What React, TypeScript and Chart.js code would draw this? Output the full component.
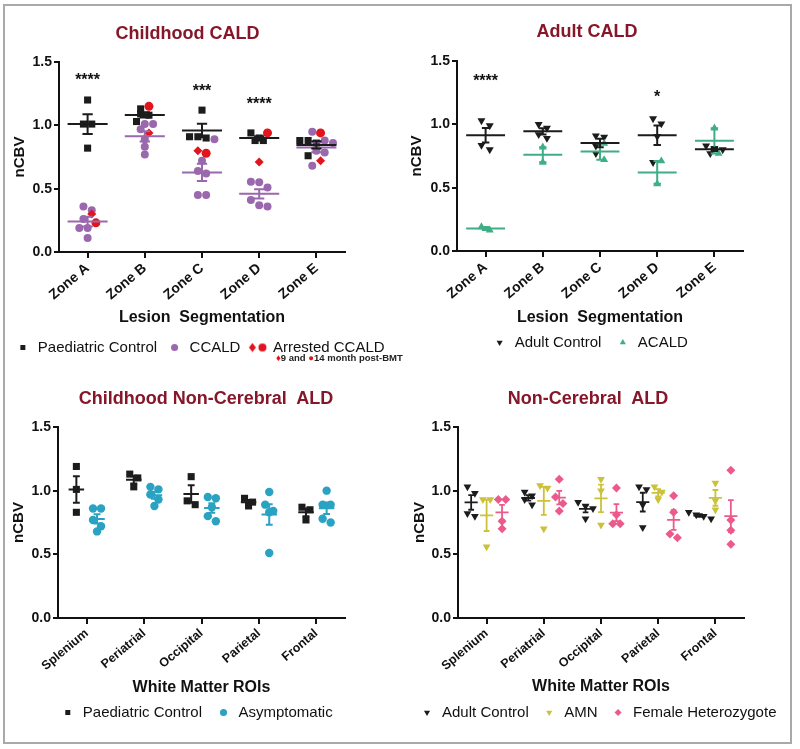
import React, { useEffect, useRef } from "react";
import { Chart, registerables } from "chart.js";

Chart.register(...registerables);

const FONT = "'Liberation Sans', Arial, Helvetica, sans-serif";
Chart.defaults.font.family = FONT;

// ---------- categories & ticks ----------
const zoneLabels = ["Zone A", "Zone B", "Zone C", "Zone D", "Zone E"];
const roiLabels = ["Splenium", "Periatrial", "Occipital", "Parietal", "Frontal"];
const yTickValues = [0, 0.5, 1.0, 1.5];

// ---------- Childhood CALD ----------
const paediatricControlZones = [
  [1.2, 1.01, 1.01, 0.82],
  [1.09, 1.08, 1.13, 1.03],
  [1.12, 0.91, 0.9, 0.91],
  [0.9, 0.88, 0.88, 0.94],
  [0.88, 0.86, 0.88, 0.76],
];
const ccaldZones = [
  [0.36, 0.33, 0.26, 0.19, 0.19, 0.11],
  [1.01, 0.97, 1.01, 0.89, 0.83, 0.77],
  [0.89, 0.72, 0.64, 0.62, 0.45, 0.45],
  [0.55, 0.555, 0.51, 0.41, 0.36, 0.37],
  [0.95, 0.86, 0.8, 0.785, 0.68, 0.88],
];
const arrested9Month = [0.3, 0.94, 0.8, 0.71, 0.72];
const arrested14Month = [0.23, 1.15, 0.78, 0.94, 0.94];
const childhoodSigText = ["****", "", "***", "****", ""];
const childhoodSigLevel = [1.39, 0, 1.3, 1.2, 0];

// ---------- Adult CALD ----------
const adultControlZones = [
  [1.03, 0.99, 0.835, 0.8],
  [1.0, 0.97, 0.92, 0.89],
  [0.91, 0.9, 0.77, 0.83],
  [1.045, 1.005, 0.905, 0.7],
  [0.83, 0.8, 0.77, 0.81],
];
const acaldZones = [
  [0.165, 0.19],
  [0.82, 0.7],
  [0.85, 0.72],
  [0.71, 0.53],
  [0.97, 0.77],
];
const adultSigText = ["****", "", "", "*", ""];
const adultSigLevel = [1.37, 0, 0, 1.245, 0];

// ---------- Childhood Non-Cerebral ALD ----------
const paediatricControlRois = [
  [1.19, 1.01, 0.83],
  [1.13, 1.1, 1.03],
  [1.11, 0.89, 0.92],
  [0.94, 0.91, 0.88],
  [0.87, 0.85, 0.77],
];
const asymptomaticRois = [
  [0.86, 0.86, 0.77, 0.68, 0.72],
  [1.01, 1.03, 0.97, 0.93, 0.88],
  [0.94, 0.95, 0.87, 0.8, 0.76],
  [0.99, 0.89, 0.84, 0.83, 0.51],
  [1.0, 0.89, 0.89, 0.75, 0.78],
];

// ---------- Non-Cerebral ALD ----------
const adultControlRois = [
  [1.03, 0.98, 0.82, 0.8],
  [0.99, 0.96, 0.93, 0.89],
  [0.91, 0.88, 0.86, 0.78],
  [1.01, 1.03, 0.89, 0.71],
  [0.83, 0.81, 0.8, 0.78],
];
const amnRois = [
  [0.93, 0.93, 0.56],
  [1.04, 1.02, 0.7],
  [1.09, 1.0, 0.73],
  [1.03, 0.99, 0.93],
  [1.06, 0.92, 0.85],
];
const femaleHetRois = [
  [0.93, 0.93, 0.76, 0.7],
  [1.09, 0.95, 0.9, 0.84],
  [1.02, 0.81, 0.74, 0.74],
  [0.96, 0.83, 0.63, 0.66],
  [1.16, 0.77, 0.69, 0.58],
];

// ---------- colours ----------
const BLACK = "#1c1c1c";
const PURPLE = "#9a68ad";
const RED = "#e2141e";
const GREEN = "#3fae86";
const TEAL = "#2aa2c2";
const YELLOW = "#cbc23a";
const PINK = "#ec5a8c";
const TITLE = "#861629";

type Group = {
  label: string;
  values: number[][];
  color: string;
  pointStyle: any;
  rotation?: number;
  radius: number;
  column: number;
  mean: boolean;
};

type LegendEntry = { text: string; color: string; pointStyle: any; rotation?: number };

type Layout = {
  padTop: number;
  padRight: number;
  yWidth: number;
  rightWidth: number;
  xHeight: number;
  legendPad: number;
  yTitlePad: number;
  xTitlePad: number;
};

type PanelSpec = {
  id: string;
  left: number;
  top: number;
  w: number;
  h: number;
  categories: string[];
  xTitle: string;
  xTickSize: number;
  groups: Group[];
  legend: () => LegendEntry[];
  step: number;
  meanHalf: number;
  capHalf: number;
  lineWidth: number;
  sigTexts?: string[];
  sigLevels?: number[];
  layout: Layout;
};

function meanSem(v: number[]) {
  const n = v.length;
  const m = v.reduce((a, b) => a + b, 0) / n;
  if (n < 2) return { m, s: 0 };
  const sd = Math.sqrt(v.reduce((a, b) => a + (b - m) * (b - m), 0) / (n - 1));
  return { m, s: sd / Math.sqrt(n) };
}

// Prism-like horizontal spreading of points sharing a column
function spread(groups: Group[], nCat: number, step: number, thr: number) {
  const xs: number[][][] = groups.map((g) => g.values.map((arr) => arr.map(() => 0)));
  for (let c = 0; c < nCat; c++) {
    const columns = new Map<number, { g: number; i: number; v: number }[]>();
    groups.forEach((g, gi) => {
      (g.values[c] || []).forEach((v, i) => {
        if (!columns.has(g.column)) columns.set(g.column, []);
        columns.get(g.column)!.push({ g: gi, i, v });
      });
    });
    columns.forEach((pts, col) => {
      const sorted = [...pts].sort((a, b) => b.v - a.v || a.g - b.g);
      let k = 0;
      while (k < sorted.length) {
        const start = sorted[k].v;
        let end = k;
        while (end + 1 < sorted.length && start - sorted[end + 1].v < thr - 1e-9) end++;
        const row = sorted.slice(k, end + 1).sort((a, b) => a.g - b.g || b.v - a.v);
        const n = row.length;
        row.forEach((p, j) => {
          xs[p.g][c][p.i] = c + col + (j - (n - 1) / 2) * step;
        });
        k = end + 1;
      }
    });
  }
  return xs;
}

function buildDatasets(spec: PanelSpec) {
  const xs = spread(spec.groups, spec.categories.length, spec.step, 0.06);
  const lines: any[] = [];
  const points: any[] = [];
  spec.groups.forEach((g, gi) => {
    if (g.mean) {
      const data: any[] = [];
      const w = spec.meanHalf;
      const cw = spec.capHalf;
      g.values.forEach((vals, c) => {
        const { m, s } = meanSem(vals);
        const cx = c + g.column;
        data.push({ x: cx - w, y: m }, { x: cx + w, y: m }, { x: cx, y: null });
        if (s > 0) {
          data.push({ x: cx, y: m - s }, { x: cx, y: m + s }, { x: cx, y: null });
          data.push({ x: cx - cw, y: m + s }, { x: cx + cw, y: m + s }, { x: cx, y: null });
          data.push({ x: cx - cw, y: m - s }, { x: cx + cw, y: m - s }, { x: cx, y: null });
        }
      });
      lines.push({
        type: "line",
        label: g.label + " mean ± SEM",
        data,
        borderColor: g.color,
        backgroundColor: g.color,
        borderWidth: spec.lineWidth,
        pointRadius: 0,
        fill: false,
        spanGaps: false,
        tension: 0,
      });
    }
    points.push({
      type: "scatter",
      label: g.label,
      data: g.values.flatMap((vals, c) => vals.map((v, i) => ({ x: xs[gi][c][i], y: v }))),
      pointStyle: g.pointStyle,
      pointRadius: g.radius,
      pointRotation: g.rotation || 0,
      backgroundColor: g.color,
      borderColor: g.color,
      borderWidth: 0,
    });
  });
  return [...lines, ...points.reverse()];
}

const sigPlugin = {
  id: "sigMarks",
  afterDatasetsDraw(chart: any, _args: any, opts: any) {
    const texts: string[] | undefined = opts && opts.texts;
    const levels: number[] | undefined = opts && opts.levels;
    if (!texts || !levels) return;
    const ctx = chart.ctx;
    const xs = chart.scales.x;
    const ys = chart.scales.y;
    ctx.save();
    ctx.font = `bold 16px ${FONT}`;
    ctx.fillStyle = "#111";
    ctx.textAlign = "center";
    ctx.textBaseline = "alphabetic";
    texts.forEach((t, i) => {
      if (!t) return;
      ctx.fillText(t, xs.getPixelForValue(i), ys.getPixelForValue(levels[i]) + 9);
    });
    ctx.restore();
  },
};

function makeArrestedMarker() {
  const c = document.createElement("canvas");
  c.width = 20;
  c.height = 10;
  const ctx = c.getContext("2d")!;
  ctx.fillStyle = RED;
  ctx.beginPath();
  ctx.moveTo(4.5, 0.5);
  ctx.lineTo(8, 5);
  ctx.lineTo(4.5, 9.5);
  ctx.lineTo(1, 5);
  ctx.closePath();
  ctx.fill();
  ctx.beginPath();
  ctx.arc(14.5, 5, 4, 0, Math.PI * 2);
  ctx.fill();
  return c;
}

function makeConfig(spec: PanelSpec): any {
  const L = spec.layout;
  const legendEntries = spec.legend();
  return {
    type: "scatter",
    data: { datasets: buildDatasets(spec) },
    plugins: [sigPlugin],
    options: {
      responsive: false,
      animation: false,
      events: [],
      layout: { padding: { top: L.padTop, right: L.padRight, left: 0, bottom: 0 } },
      plugins: {
        title: { display: false },
        tooltip: { enabled: false },
        sigMarks: { texts: spec.sigTexts, levels: spec.sigLevels },
        legend: {
          display: true,
          position: "bottom",
          align: "center",
          labels: {
            usePointStyle: true,
            boxHeight: 5,
            boxWidth: 15,
            padding: L.legendPad,
            color: "#111",
            font: { family: FONT, size: 15 },
            generateLabels: () =>
              legendEntries.map((e, i) => ({
                text: e.text,
                fillStyle: e.color,
                strokeStyle: e.color,
                lineWidth: 0,
                pointStyle: e.pointStyle,
                rotation: e.rotation || 0,
                hidden: false,
                datasetIndex: i,
                fontColor: "#111",
              })),
          },
        },
      },
      scales: {
        x: {
          type: "linear",
          min: -0.5,
          max: 4.5,
          afterBuildTicks: (s: any) => {
            s.ticks = spec.categories.map((_, i) => ({ value: i }));
          },
          afterFit: (s: any) => {
            s.height = L.xHeight;
          },
          ticks: {
            autoSkip: false,
            minRotation: 40,
            maxRotation: 40,
            padding: 2,
            color: "#111",
            font: { family: FONT, size: spec.xTickSize, weight: "bold" },
            callback: (v: any) => spec.categories[v] ?? "",
          },
          grid: { display: true, drawOnChartArea: false, drawTicks: true, tickLength: 6, color: "#111", lineWidth: 2 },
          border: { display: true, color: "#111", width: 2 },
          title: {
            display: true,
            text: spec.xTitle,
            color: "#111",
            font: { family: FONT, size: 16, weight: "bold" },
            padding: { top: 0, bottom: L.xTitlePad },
          },
        },
        y: {
          type: "linear",
          position: "left",
          min: 0,
          max: 1.5,
          afterBuildTicks: (s: any) => {
            s.ticks = yTickValues.map((v) => ({ value: v }));
          },
          afterFit: (s: any) => {
            s.width = L.yWidth;
          },
          ticks: {
            padding: 2,
            color: "#111",
            font: { family: FONT, size: 14, weight: "bold" },
            callback: (v: any) => Number(v).toFixed(1),
          },
          grid: { display: true, drawOnChartArea: false, drawTicks: true, tickLength: 5, color: "#111", lineWidth: 2 },
          border: { display: true, color: "#111", width: 2 },
          title: {
            display: true,
            text: "nCBV",
            color: "#111",
            font: { family: FONT, size: 15, weight: "bold" },
            padding: { top: L.yTitlePad, bottom: 0 },
          },
        },
        yR: {
          type: "linear",
          position: "right",
          display: true,
          afterFit: (s: any) => {
            s.width = L.rightWidth;
          },
          ticks: { display: false },
          grid: { display: false, drawTicks: false },
          border: { display: false },
        },
      },
    },
  };
}

const panels: PanelSpec[] = [
  {
    id: "childhood",
    left: 0,
    top: 0,
    w: 400,
    h: 365,
    categories: zoneLabels,
    xTitle: "Lesion  Segmentation",
    xTickSize: 14,
    step: 0.145,
    meanHalf: 0.35,
    capHalf: 0.09,
    lineWidth: 2,
    sigTexts: childhoodSigText,
    sigLevels: childhoodSigLevel,
    groups: [
      { label: "Paediatric Control", values: paediatricControlZones, color: BLACK, pointStyle: "rect", radius: 5, column: 0, mean: true },
      { label: "CCALD", values: ccaldZones, color: PURPLE, pointStyle: "circle", radius: 4, column: 0, mean: true },
      { label: "Arrested CCALD 9 month", values: arrested9Month.map((v) => [v]), color: RED, pointStyle: "rectRot", radius: 4.5, column: 0, mean: false },
      { label: "Arrested CCALD 14 month", values: arrested14Month.map((v) => [v]), color: RED, pointStyle: "circle", radius: 4.5, column: 0, mean: false },
    ],
    legend: () => [
      { text: "Paediatric Control", color: BLACK, pointStyle: "rect" },
      { text: "CCALD", color: PURPLE, pointStyle: "circle" },
      { text: "Arrested CCALD", color: RED, pointStyle: makeArrestedMarker() },
    ],
    layout: { padTop: 62, padRight: 0, yWidth: 59, rightWidth: 55, xHeight: 78, legendPad: 10, yTitlePad: 11, xTitlePad: 2.4 },
  },
  {
    id: "adult",
    left: 400,
    top: 0,
    w: 400,
    h: 360,
    categories: zoneLabels,
    xTitle: "Lesion  Segmentation",
    xTickSize: 14,
    step: 0.145,
    meanHalf: 0.34,
    capHalf: 0.065,
    lineWidth: 2,
    sigTexts: adultSigText,
    sigLevels: adultSigLevel,
    groups: [
      { label: "Adult Control", values: adultControlZones, color: BLACK, pointStyle: "triangle", rotation: 180, radius: 4.6, column: 0, mean: true },
      { label: "ACALD", values: acaldZones, color: GREEN, pointStyle: "triangle", radius: 4.6, column: 0, mean: true },
    ],
    legend: () => [
      { text: "Adult Control", color: BLACK, pointStyle: "triangle", rotation: 180 },
      { text: "ACALD", color: GREEN, pointStyle: "triangle" },
    ],
    layout: { padTop: 61, padRight: 20, yWidth: 57, rightWidth: 37, xHeight: 70, legendPad: 14, yTitlePad: 8, xTitlePad: -6.6 },
  },
  {
    id: "childNonCerebral",
    left: 0,
    top: 370,
    w: 400,
    h: 360,
    categories: roiLabels,
    xTitle: "White Matter ROIs",
    xTickSize: 12.5,
    step: 0.14,
    meanHalf: 0.135,
    capHalf: 0.06,
    lineWidth: 2,
    groups: [
      { label: "Paediatric Control", values: paediatricControlRois, color: BLACK, pointStyle: "rect", radius: 5, column: -0.18, mean: true },
      { label: "Asymptomatic", values: asymptomaticRois, color: TEAL, pointStyle: "circle", radius: 4.2, column: 0.18, mean: true },
    ],
    legend: () => [
      { text: "Paediatric Control", color: BLACK, pointStyle: "rect" },
      { text: "Asymptomatic", color: TEAL, pointStyle: "circle" },
    ],
    layout: { padTop: 57, padRight: 7, yWidth: 58, rightWidth: 48, xHeight: 73, legendPad: 14, yTitlePad: 10, xTitlePad: -6.6 },
  },
  {
    id: "nonCerebral",
    left: 400,
    top: 370,
    w: 400,
    h: 360,
    categories: roiLabels,
    xTitle: "White Matter ROIs",
    xTickSize: 12.5,
    step: 0.13,
    meanHalf: 0.115,
    capHalf: 0.05,
    lineWidth: 1.8,
    groups: [
      { label: "Adult Control", values: adultControlRois, color: BLACK, pointStyle: "triangle", rotation: 180, radius: 4.5, column: -0.27, mean: true },
      { label: "AMN", values: amnRois, color: YELLOW, pointStyle: "triangle", rotation: 180, radius: 4.5, column: 0, mean: true },
      { label: "Female Heterozygote", values: femaleHetRois, color: PINK, pointStyle: "rectRot", radius: 4.5, column: 0.27, mean: true },
    ],
    legend: () => [
      { text: "Adult Control", color: BLACK, pointStyle: "triangle", rotation: 180 },
      { text: "AMN", color: YELLOW, pointStyle: "triangle", rotation: 180 },
      { text: "Female Heterozygote", color: PINK, pointStyle: "rectRot" },
    ],
    layout: { padTop: 57, padRight: 4, yWidth: 58, rightWidth: 52, xHeight: 74, legendPad: 13, yTitlePad: 11, xTitlePad: -4.6 },
  },
];

const panelTitles = [
  { text: "Childhood CALD", x: 187.5, y: 33 },
  { text: "Adult CALD", x: 587, y: 31 },
  { text: "Childhood Non-Cerebral  ALD", x: 206, y: 398 },
  { text: "Non-Cerebral  ALD", x: 588, y: 398 },
];

function Panel({ spec }: { spec: PanelSpec }) {
  const ref = useRef<HTMLCanvasElement>(null);
  useEffect(() => {
    if (!ref.current) return;
    const chart = new Chart(ref.current, makeConfig(spec));
    return () => chart.destroy();
  }, [spec]);
  return (
    <canvas
      ref={ref}
      width={spec.w}
      height={spec.h}
      style={{ position: "absolute", left: spec.left, top: spec.top, width: spec.w, height: spec.h }}
    />
  );
}

export default function App() {
  return (
    <div
      style={{
        position: "absolute",
        left: 0,
        top: 0,
        width: 800,
        height: 749,
        background: "#fff",
        fontFamily: FONT,
        overflow: "hidden",
      }}
    >
      <div
        style={{
          position: "absolute",
          left: 3,
          top: 4,
          width: 789,
          height: 740,
          border: "2px solid #a9a9a9",
          boxSizing: "border-box",
        }}
      />
      {panels.map((p) => (
        <Panel key={p.id} spec={p} />
      ))}
      {panelTitles.map((t) => (
        <div
          key={t.text}
          style={{
            position: "absolute",
            left: t.x,
            top: t.y,
            transform: "translate(-50%, -50%)",
            whiteSpace: "pre",
            fontWeight: "bold",
            fontSize: 18,
            lineHeight: 1,
            color: TITLE,
          }}
        >
          {t.text}
        </div>
      ))}
      <div
        style={{
          position: "absolute",
          left: 276,
          top: 358,
          transform: "translateY(-50%)",
          whiteSpace: "nowrap",
          fontWeight: "bold",
          fontSize: 9.5,
          lineHeight: 1,
          color: "#222",
        }}
      >
        <span style={{ color: RED }}>♦</span>9 and <span style={{ color: RED }}>●</span>14 month post-BMT
      </div>
    </div>
  );
}
